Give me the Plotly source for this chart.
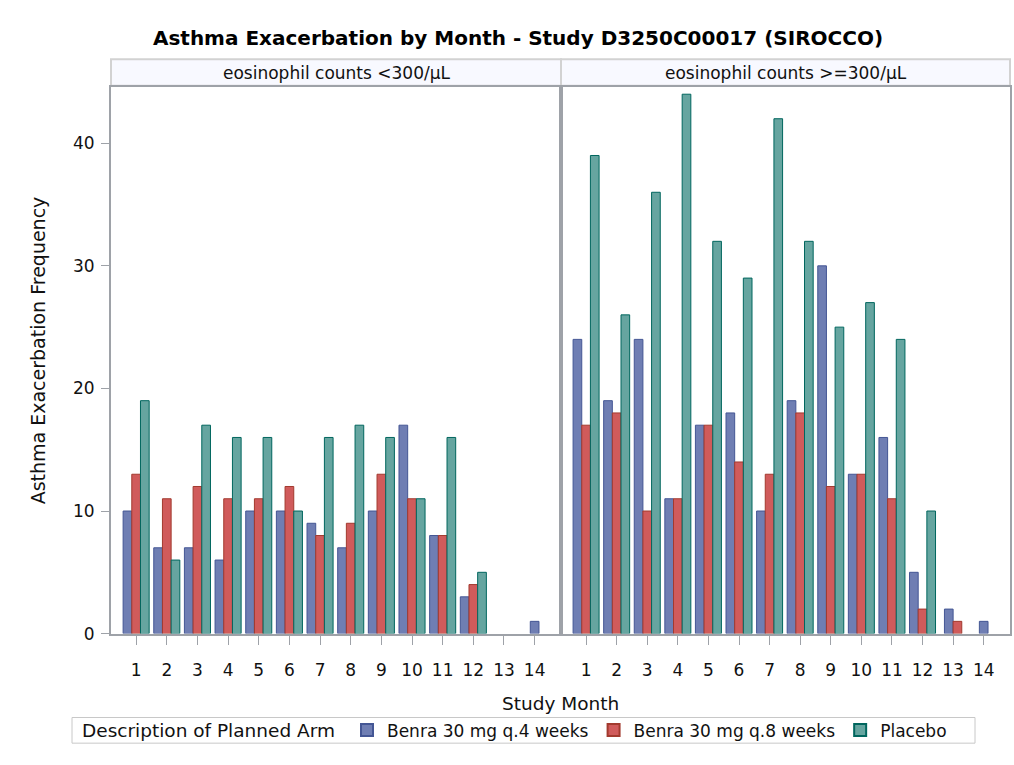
import plotly.graph_objects as go

# Study months on the x axis
months = list(range(1, 15))

# Exacerbation counts per arm, eosinophil counts <300/µL (None = no events recorded)
low_q4 = [10, 7, 7, 6, 10, 10, 9, 7, 10, 17, 8, 3, None, 1]
low_q8 = [13, 11, 12, 11, 11, 12, 8, 9, 13, 11, 8, 4, None, None]
low_pbo = [19, 6, 17, 16, 16, 10, 16, 17, 16, 11, 16, 5, None, None]

# Exacerbation counts per arm, eosinophil counts >=300/µL
high_q4 = [24, 19, 24, 11, 17, 18, 10, 19, 30, 13, 16, 5, 2, 1]
high_q8 = [17, 18, 10, 11, 17, 14, 13, 18, 12, 13, 11, 2, 1, None]
high_pbo = [39, 26, 36, 44, 32, 29, 42, 32, 25, 27, 24, 10, None, None]

arms = ["Benra 30 mg q.4 weeks", "Benra 30 mg q.8 weeks", "Placebo"]
panel_titles = ["eosinophil counts <300/\u03bcL", "eosinophil counts >=300/\u03bcL"]

fills = ["#6F7EB3", "#D05B5B", "#66A5A0"]
edges = ["#445694", "#A23A2E", "#01665E"]

CLUSTER = 0.85
BAR_W = CLUSTER / 3

FONT = "DejaVu Sans, Liberation Sans, Arial, sans-serif"
FRAME = "#9ea2a8"
TXT = "#111111"


def cluster_offsets(series):
    """Centre the bars that are present in each month's cluster."""
    offs = [[None] * len(months) for _ in series]
    for j in range(len(months)):
        present = [k for k, s in enumerate(series) if s[j] is not None]
        n = len(present)
        for pos, k in enumerate(present):
            offs[k][j] = (-n / 2 + pos) * BAR_W
    return offs


fig = go.Figure()

panels = [(low_q4, low_q8, low_pbo), (high_q4, high_q8, high_pbo)]
for p, series in enumerate(panels):
    offs = cluster_offsets(series)
    xa = "x" if p == 0 else "x2"
    ya = "y" if p == 0 else "y2"
    for k, vals in enumerate(series):
        xs = [m for m, v in zip(months, vals) if v is not None]
        ys = [v for v in vals if v is not None]
        os_ = [o for o, v in zip(offs[k], vals) if v is not None]
        fig.add_trace(go.Bar(
            x=xs, y=ys, offset=os_, width=BAR_W,
            name=arms[k], legendgroup=arms[k], showlegend=(p == 0),
            marker=dict(color=fills[k], line=dict(color=edges[k], width=1)),
            xaxis=xa, yaxis=ya,
        ))

W, H = 1014, 765
left, mid, right = 111, 561, 1010
top, bottom = 88, 642
strip_top = 60

xdom1 = [left / W, mid / W]
xdom2 = [mid / W, right / W]
ydom = [(H - bottom) / H, (H - top) / H]

xaxis_common = dict(
    range=[0.18, 14.86], tickmode="array", tickvals=months,
    ticktext=[str(m) for m in months],
    ticks="outside", ticklen=9, tickcolor=FRAME, tickwidth=1,
    ticklabelstandoff=11,
    showline=True, linecolor=FRAME, linewidth=2, mirror=True,
    showgrid=False, zeroline=False,
    tickfont=dict(family=FONT, size=17, color=TXT),
)
yaxis_common = dict(
    range=[0, 44.6], domain=ydom, tickvals=[0, 10, 20, 30, 40],
    showline=True, linecolor=FRAME, linewidth=2, mirror=True,
    showgrid=False, zeroline=False,
)

fig.update_layout(
    width=W, height=H,
    margin=dict(l=0, r=0, t=0, b=0),
    paper_bgcolor="white", plot_bgcolor="white",
    barmode="overlay",
    title=dict(
        text="<b>Asthma Exacerbation by Month - Study D3250C00017 (SIROCCO)</b>",
        x=518 / W, xanchor="center", y=1 - 38 / H, yanchor="middle",
        font=dict(family=FONT, size=20, color="#000"),
    ),
    xaxis=dict(domain=xdom1, anchor="y", **xaxis_common),
    xaxis2=dict(domain=xdom2, anchor="y2", **xaxis_common),
    yaxis=dict(
        anchor="x", ticks="outside", ticklen=8, tickcolor=FRAME,
        ticklabelstandoff=3,
        tickfont=dict(family=FONT, size=17, color=TXT),
        **yaxis_common,
    ),
    yaxis2=dict(anchor="x2", matches="y", showticklabels=False, ticks="", **yaxis_common),
    legend=dict(
        orientation="h", x=347 / W, xanchor="left", y=1 - 740 / H, yanchor="middle",
        borderwidth=0, bgcolor="rgba(0,0,0,0)",
        font=dict(family=FONT, size=17, color=TXT),
        itemsizing="constant", traceorder="normal",
    ),
)

# Panel header strips
strip_y0 = 1 - (top - 1) / H
strip_y1 = 1 - strip_top / H
for dom, label in zip([xdom1, xdom2], panel_titles):
    fig.add_shape(type="rect", xref="paper", yref="paper",
                  x0=dom[0], x1=dom[1], y0=strip_y0, y1=strip_y1,
                  fillcolor="#f8f9ff", line=dict(color="#d2d2d2", width=2), layer="below")
    fig.add_annotation(xref="paper", yref="paper", x=(dom[0] + dom[1]) / 2,
                       y=(strip_y0 + strip_y1) / 2, text=label, showarrow=False,
                       xanchor="center", yanchor="middle",
                       font=dict(family=FONT, size=17, color=TXT))

# Legend frame and its title
fig.add_shape(type="rect", xref="paper", yref="paper",
              x0=72 / W, x1=975 / W, y0=1 - 753 / H, y1=1 - 727 / H,
              line=dict(color="#c8c8c8", width=1), fillcolor="white", layer="below")
fig.add_annotation(xref="paper", yref="paper", x=80 / W, y=1 - 740 / H,
                   text="Description of Planned Arm", showarrow=False,
                   xanchor="left", yanchor="middle",
                   font=dict(family=FONT, size=18.5, color=TXT))

# Axis titles
fig.add_annotation(xref="paper", yref="paper", x=(left + right) / 2 / W, y=1 - 713 / H,
                   text="Study Month", showarrow=False, xanchor="center", yanchor="middle",
                   font=dict(family=FONT, size=18.5, color=TXT))
fig.add_annotation(xref="paper", yref="paper", x=38 / W, y=1 - 355 / H,
                   text="Asthma Exacerbation Frequency", showarrow=False, textangle=-90,
                   xanchor="center", yanchor="middle",
                   font=dict(family=FONT, size=19, color=TXT))

fig.write_html("out.html")
